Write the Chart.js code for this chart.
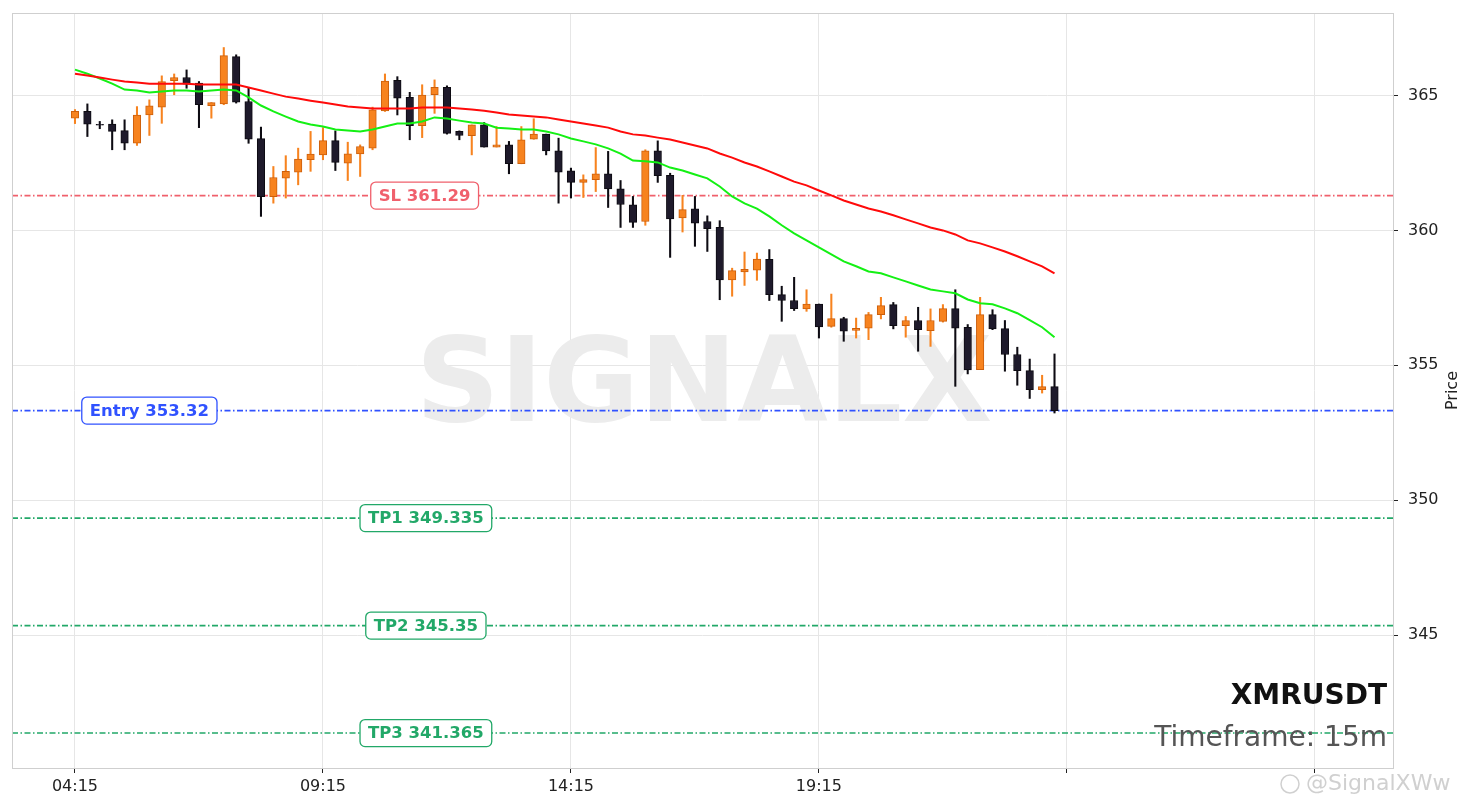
<!DOCTYPE html>
<html>
<head>
<meta charset="utf-8">
<script src="https://cdn.jsdelivr.net/npm/chart.js@4"></script>
<style>
html,body{margin:0;padding:0;background:#fff;}
#wrap{width:1474px;height:808px;position:relative;}
</style>
</head>
<body>
<div id="wrap"><canvas id="c" width="1474" height="808"></canvas></div>
<script>
// ---- data (15m candles from 04:15) ----
const opens  = [364.16,364.41,363.93,363.94,363.70,363.23,364.28,364.57,365.55,365.67,365.46,364.62,364.69,366.44,364.78,363.40,361.25,361.94,362.16,362.62,
                362.80,363.33,362.49,362.84,363.05,364.43,365.56,364.93,363.88,365.03,365.30,363.67,363.51,363.91,363.09,363.17,362.47,363.38,363.57,362.95,
                362.21,361.78,361.88,362.10,361.54,360.95,360.33,362.95,362.04,360.46,360.80,360.33,360.11,358.16,358.46,358.53,358.93,357.62,357.40,357.09,
                357.27,356.44,356.73,356.29,356.38,356.88,357.25,356.47,356.66,356.28,356.63,357.10,356.41,354.84,356.88,356.36,355.40,354.80,354.10,354.21];
const highs  = [364.48,364.69,364.04,364.10,364.10,364.59,364.84,365.73,365.80,365.95,365.52,364.74,366.78,366.51,365.27,363.83,362.37,362.77,363.05,363.67,
                363.81,363.69,363.27,363.17,364.57,365.80,365.70,365.12,365.40,365.58,365.36,363.69,363.91,364.00,363.85,363.30,363.85,364.14,363.57,363.42,
                362.31,362.06,363.07,362.93,361.85,361.26,362.99,363.32,362.12,361.30,361.26,360.54,360.36,358.60,359.20,359.16,359.29,357.93,358.26,357.80,
                357.27,357.64,356.78,356.75,356.96,357.52,357.33,356.81,357.15,357.09,357.25,357.80,356.51,357.52,357.06,356.66,355.67,355.23,354.63,355.42];
const lows   = [363.96,363.48,363.77,362.99,362.99,363.15,363.52,363.97,365.03,365.27,363.81,364.16,364.66,364.72,363.23,360.52,361.01,361.20,361.69,362.19,
                362.62,362.22,361.85,362.00,362.99,364.41,364.28,363.36,363.44,364.34,363.57,363.36,362.80,363.09,363.09,362.10,362.47,363.38,362.80,361.01,
                361.20,361.22,361.44,360.85,360.11,360.11,360.19,361.78,359.00,359.94,359.41,359.22,357.43,357.56,357.96,358.15,357.40,356.63,357.03,357.00,
                356.01,356.41,355.89,356.01,355.95,356.72,356.35,356.04,355.52,355.70,356.60,354.22,354.68,354.84,356.32,354.78,354.26,353.77,353.97,353.23];
const closes = [364.41,363.94,363.90,363.67,363.23,364.28,364.62,365.52,365.67,365.42,364.66,364.74,366.48,364.75,363.38,361.25,361.96,362.19,362.64,362.83,
                363.33,362.52,362.84,363.11,364.47,365.54,364.90,363.88,365.02,365.30,363.60,363.52,363.91,363.09,363.17,362.47,363.36,363.57,362.95,362.16,
                361.78,361.88,362.10,361.54,360.96,360.30,362.95,362.03,360.43,360.77,360.27,360.06,358.16,358.51,358.56,358.94,357.62,357.40,357.10,357.27,
                356.42,356.73,356.26,356.37,356.88,357.21,356.47,356.66,356.32,356.66,357.10,356.38,354.83,356.88,356.35,355.40,354.80,354.10,354.21,353.32];
const maFast = [365.96,365.81,365.63,365.44,365.22,365.19,365.11,365.15,365.19,365.19,365.15,365.19,365.22,365.19,364.93,364.63,364.41,364.22,364.04,363.93,
                363.85,363.74,363.70,363.67,363.74,363.85,363.96,363.96,364.04,364.19,364.15,364.07,364.00,363.96,363.81,363.78,363.74,363.74,363.67,363.56,
                363.41,363.30,363.19,363.04,362.85,362.59,362.56,362.52,362.33,362.22,362.07,361.93,361.63,361.26,361.00,360.81,360.52,360.19,359.89,359.63,
                359.37,359.11,358.85,358.67,358.48,358.41,358.26,358.11,357.96,357.81,357.74,357.67,357.44,357.30,357.26,357.11,356.93,356.67,356.41,356.04];
const maSlow = [365.81,365.74,365.67,365.59,365.52,365.48,365.44,365.44,365.44,365.44,365.41,365.41,365.41,365.41,365.30,365.19,365.07,364.96,364.89,364.81,
                364.74,364.67,364.59,364.56,364.52,364.52,364.52,364.52,364.56,364.56,364.56,364.52,364.48,364.44,364.37,364.30,364.26,364.22,364.19,364.11,
                364.04,363.96,363.89,363.81,363.67,363.56,363.52,363.44,363.37,363.26,363.15,363.04,362.85,362.70,362.52,362.37,362.19,362.00,361.81,361.67,
                361.48,361.30,361.11,360.96,360.81,360.70,360.56,360.41,360.26,360.11,360.00,359.85,359.63,359.52,359.37,359.22,359.04,358.85,358.67,358.41];
const levelNames  = ['SL','Entry','TP1','TP2','TP3'];
const levelValues = [361.29, 353.32, 349.335, 345.35, 341.365];
const xTickIdx    = [0, 20, 40, 60, 80, 100];
const xTickLabels = ['04:15','09:15','14:15','19:15','',''];
const yTicks      = [345, 350, 355, 360, 365];
const symbol = 'XMRUSDT';
const timeframe = 'Timeframe: 15m';

// ---- styling ----
const X_MIN = -5.08, X_MAX = 106.3, Y_MIN = 340.07, Y_MAX = 368.06;
const UP_FILL = '#f7831f', UP_EDGE = '#cc5f0c';
const DN_FILL = '#1e1a2b', DN_EDGE = '#0d0b12';
const levelColors = ['#f0606c', '#3052ff', '#22a868', '#22a868', '#22a868'];
const labelAt = [28.2, 6.0, 28.3, 28.3, 28.3];
const FONT = '"DejaVu Sans", "Liberation Sans", sans-serif';
const TICK_FONT = 16;

const bodies = opens.map((o, i) => ({x: i, y: [o, closes[i]]}));
const wicks  = opens.map((o, i) => ({x: i, y: [lows[i], highs[i]]}));
const isUp = i => closes[i] >= opens[i];

const datasets = [
  {type: 'line', label: 'slow', data: maSlow.map((v, i) => ({x: i, y: v})), borderColor: '#ff0a0a', borderWidth: 2,
   pointRadius: 0, tension: 0, order: 0},
  {type: 'line', label: 'fast', data: maFast.map((v, i) => ({x: i, y: v})), borderColor: '#14f014', borderWidth: 2,
   pointRadius: 0, tension: 0, order: 0},
  {type: 'bar', label: 'body', data: bodies, barThickness: 7.5, borderWidth: 1, borderSkipped: false, grouped: false,
   backgroundColor: c => isUp(c.dataIndex) ? UP_FILL : DN_FILL,
   borderColor: c => isUp(c.dataIndex) ? UP_EDGE : DN_EDGE, order: 1},
  {type: 'bar', label: 'wick', data: wicks, barThickness: 1.4, borderWidth: 0, grouped: false,
   backgroundColor: c => isUp(c.dataIndex) ? UP_FILL : DN_EDGE, order: 2}
];
levelValues.forEach((v, k) => {
  datasets.push({type: 'line', label: levelNames[k], data: [{x: X_MIN, y: v}, {x: X_MAX, y: v}],
    borderColor: levelColors[k], borderWidth: 1.6, borderDash: [6, 2.5, 1.5, 2.5], pointRadius: 0, order: 3});
});

const deco = {
  id: 'deco',
  beforeDatasetsDraw(chart) {
    const ctx = chart.ctx, a = chart.chartArea;
    ctx.save();
    ctx.beginPath(); ctx.rect(a.left, a.top, a.right - a.left, a.bottom - a.top); ctx.clip();
    ctx.font = 'bold 117px ' + FONT;
    ctx.fillStyle = '#ececec';
    ctx.textAlign = 'center'; ctx.textBaseline = 'alphabetic';
    ctx.fillText('SIGNALX', 704, 421);
    ctx.restore();
  },
  afterDatasetsDraw(chart) {
    const ctx = chart.ctx, xs = chart.scales.x, ys = chart.scales.y;
    ctx.save();
    ctx.font = 'bold 16.5px ' + FONT;
    ctx.textAlign = 'center'; ctx.textBaseline = 'middle';
    levelValues.forEach((v, k) => {
      const txt = levelNames[k] + ' ' + v;
      const cx = xs.getPixelForValue(labelAt[k]), cy = ys.getPixelForValue(v);
      const w = ctx.measureText(txt).width + 16, h = 27;
      ctx.beginPath();
      ctx.roundRect(cx - w / 2, cy - h / 2, w, h, 5);
      ctx.fillStyle = '#ffffff'; ctx.fill();
      ctx.lineWidth = 1.3; ctx.strokeStyle = levelColors[k]; ctx.stroke();
      ctx.fillStyle = levelColors[k];
      ctx.fillText(txt, cx, cy + 1);
    });
    ctx.restore();
  },
  afterDraw(chart) {
    const ctx = chart.ctx, a = chart.chartArea;
    ctx.save();
    ctx.strokeStyle = '#cfcfcf'; ctx.lineWidth = 1;
    ctx.strokeRect(a.left + 0.5, a.top + 0.5, a.right - a.left, a.bottom - a.top);
    ctx.textAlign = 'right'; ctx.textBaseline = 'alphabetic';
    ctx.font = 'bold 28px ' + FONT; ctx.fillStyle = '#111111';
    ctx.fillText(symbol, 1387, 704);
    ctx.font = '28px ' + FONT; ctx.fillStyle = '#555555';
    ctx.fillText(timeframe, 1387, 746);
    ctx.translate(1453, (a.top + a.bottom) / 2); ctx.rotate(-Math.PI / 2);
    ctx.textAlign = 'center'; ctx.textBaseline = 'middle';
    ctx.font = '16px ' + FONT; ctx.fillStyle = '#222222';
    ctx.fillText('Price', 0, 0);
    ctx.restore();
    ctx.save();
    ctx.font = '22px ' + FONT; ctx.fillStyle = '#d0d0d0'; ctx.textAlign = 'left'; ctx.textBaseline = 'middle';
    ctx.fillText('@SignalXWw', 1306, 784);
    ctx.strokeStyle = '#d0d0d0'; ctx.lineWidth = 1.5;
    ctx.beginPath(); ctx.arc(1290, 784, 9, 0, Math.PI * 2); ctx.stroke();
    ctx.restore();
  }
};

new Chart(document.getElementById('c'), {
  type: 'bar',
  data: {datasets},
  options: {
    responsive: false, animation: false,
    layout: {padding: {left: 12, top: 13, right: 0, bottom: 0}},
    plugins: {legend: {display: false}, tooltip: {enabled: false}},
    scales: {
      x: {type: 'linear', min: X_MIN, max: X_MAX, offset: false,
          afterBuildTicks: s => { s.ticks = xTickIdx.map(v => ({value: v})); },
          afterFit: s => { s.height = 40; s.paddingLeft = 0; s.paddingRight = 0; },
          grid: {color: '#e6e6e6', tickColor: '#222', tickLength: 5, drawTicks: true, offset: false},
          border: {display: false},
          ticks: {autoSkip: false, maxRotation: 0, padding: 4, color: '#222', font: {family: FONT, size: TICK_FONT},
                  callback: (v) => { const k = xTickIdx.indexOf(v); return k >= 0 ? xTickLabels[k] : ''; }}},
      y: {type: 'linear', position: 'right', min: Y_MIN, max: Y_MAX,
          afterBuildTicks: s => { s.ticks = yTicks.map(v => ({value: v})); },
          afterFit: s => { s.width = 81; s.paddingTop = 0; s.paddingBottom = 0; },
          grid: {color: '#e6e6e6', tickColor: '#222', tickLength: 5},
          border: {display: false},
          ticks: {padding: 10, color: '#222', font: {family: FONT, size: TICK_FONT}}}
    }
  },
  plugins: [deco]
});
</script>
</body>
</html>
